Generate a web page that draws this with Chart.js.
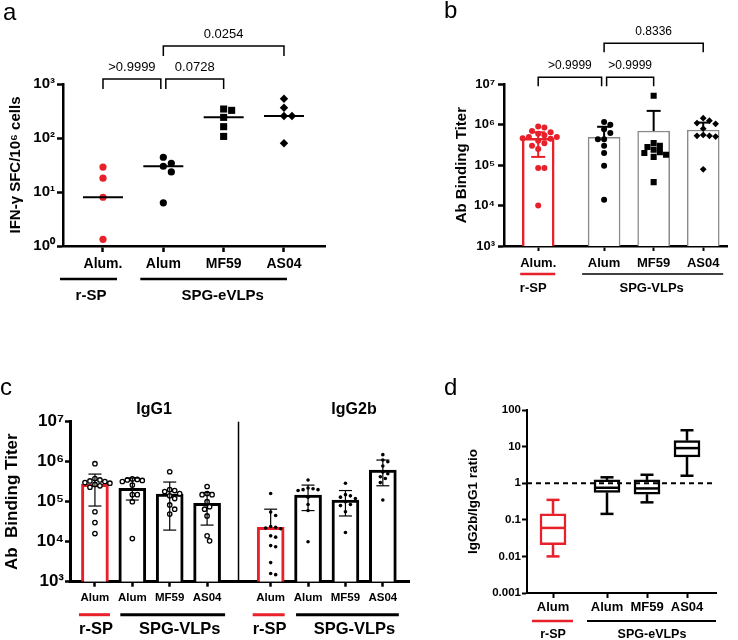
<!DOCTYPE html>
<html lang="en">
<head>
<meta charset="UTF-8">
<title>Vaccine immunogenicity panels</title>
<script src="https://cdn.jsdelivr.net/npm/chart.js@4.4.1/dist/chart.umd.min.js"></script>
<style>
  body { margin: 0; background: #fff; }
  #wrap { position: relative; width: 738px; height: 640px; }
  #wrap canvas { position: absolute; left: 0; top: 0; }
</style>
</head>
<body>
<div id="wrap">
  <canvas id="chartA" width="738" height="640"></canvas>
  <canvas id="chartB" width="738" height="640"></canvas>
  <canvas id="chartC" width="738" height="640"></canvas>
  <canvas id="chartD" width="738" height="640"></canvas>
</div>
<script>
// ---------- data ----------
// a: IFN-g SFC / 10^6 cells
var catsA = ['Alum.', 'Alum', 'MF59', 'AS04'];
var groupsA = ['r-SP', 'SPG-eVLPs'];
var spotsA = [
  [29, 18, 8, 1.33],
  [44, 34, 30, 23.5, 6.3],
  [344, 325, 241, 162, 107],
  [534, 364, 255, 255, 80]
];
var medianA = [8, 30, 241, 255];
var pvalA = ['>0.9999', '0.0728', '0.0254'];
var ticksA = [1, 10, 100, 1000];

// b: Ab binding titer
var catsB = ['Alum.', 'Alum', 'MF59', 'AS04'];
var groupsB = ['r-SP', 'SPG-VLPs'];
var titerB = [
  [9e5, 8.5e5, 7e5, 6.5e5, 6e5, 5.5e5, 5e5, 5e5, 4.6e5, 4.5e5, 4e5, 3.5e5, 3e5, 2.5e5, 8.5e4, 8.5e4, 1e4],
  [1.17e6, 1.0e6, 7.7e5, 6.2e5, 4.4e5, 4.4e5, 3.0e5, 2.0e5, 9.7e4, 1.4e4],
  [5.2e6, 3.5e5, 3.0e5, 2.8e5, 2.4e5, 2.1e5, 2.0e5, 1.8e5, 1.6e5, 3.8e4],
  [1.45e6, 1.26e6, 1.1e6, 1.05e6, 8.0e5, 5.6e5, 5.3e5, 5.3e5, 5.1e5, 7.9e4]
];
var meanB = [4.6e5, 4.9e5, 7.0e5, 7.4e5];
var sdLoB = [1.6e5, null, null, null];
var sdHiB = [6.5e5, 8.9e5, 2.2e6, 1.13e6];
var pvalB = ['>0.9999', '>0.9999', '0.8336'];
var ticksB = [1e3, 1e4, 1e5, 1e6, 1e7];

// c: IgG1 / IgG2b titers
var catsC = ['Alum', 'Alum', 'MF59', 'AS04', 'Alum', 'Alum', 'MF59', 'AS04'];
var subsetsC = ['IgG1', 'IgG2b'];
var groupsC = ['r-SP', 'SPG-VLPs', 'r-SP', 'SPG-VLPs'];
var igg1C = [
  [8.9e5, 3.8e5, 3.5e5, 3.3e5, 3.2e5, 3.0e5, 2.9e5, 2.7e5, 2.5e5, 2.3e5, 5.6e4, 3.0e4, 1.6e4],
  [3.7e5, 3.6e5, 3.5e5, 3.4e5, 3.2e5, 2.6e5, 1.5e5, 1.5e5, 1.0e5, 1.2e4],
  [5.6e5, 2.0e5, 1.9e5, 1.8e5, 1.6e5, 1.4e5, 1.2e5, 8.3e4, 6.5e4, 4.9e4],
  [2.4e5, 1.6e5, 1.5e5, 1.5e5, 1.0e5, 7.5e4, 6.5e4, 4.4e4, 1.4e4, 1.05e4]
];
var igg2bC = [
  [1.6e5, 5.5e4, 4.5e4, 2.4e4, 2.3e4, 2.2e4, 2.1e4, 1.4e4, 1.3e4, 8e3, 7.5e3, 3e3, 1.5e3, 1.6e3],
  [3.5e5, 2.2e5, 2.1e5, 2.0e5, 2.0e5, 1.9e5, 1.3e5, 8.5e4, 6e4, 1.0e4],
  [2.9e5, 1.5e5, 1.4e5, 1.3e5, 1.2e5, 1.0e5, 8.5e4, 8e4, 5.6e4, 1.7e4],
  [1.5e6, 1.1e6, 1.0e6, 7.8e5, 5.5e5, 5.0e5, 4.2e5, 3.8e5, 3.0e5, 1.1e5]
];
var meanC = [2.7e5, 2.15e5, 1.55e5, 9.1e4, 2.3e4, 1.47e5, 1.1e5, 6.2e5];
var sdLoC = [7.8e4, 1.1e5, 1.95e4, 2.6e4, null, 6e4, 4.4e4, 2.5e5];
var sdHiC = [4.9e5, 3.9e5, 3.1e5, 1.7e5, 6.5e4, 2.6e5, 1.9e5, 1.1e6];

// d: IgG2b/IgG1 ratio (box and whiskers)
var catsD = ['Alum', 'Alum', 'MF59', 'AS04'];
var groupsD = ['r-SP', 'SPG-eVLPs'];
var minD = [0.01, 0.145, 0.30, 1.6];
var q1D = [0.021, 0.56, 0.5, 5.2];
var medD = [0.06, 0.75, 0.72, 9.1];
var q3D = [0.145, 1.23, 1.23, 14.5];
var maxD = [0.35, 1.45, 1.7, 28];
var ticksD = [0.001, 0.01, 0.1, 1, 10, 100];
var tickLabelsD = ['0.001', '0.01', '0.1', '1', '10', '100'];

// ---------- layout ----------
var FONT = "'Liberation Sans', Arial, Helvetica, sans-serif";
var RED = '#e8202a';
var W = 738, H = 640;
var LA = {left: 63, right: 325, top: 84, bottom: 246, yw: 55.8, xh: 30, pos: [1, 2, 3, 4], xmin: 0.337, xmax: 4.68};
var LB = {left: 504, right: 727, top: 84.3, bottom: 246, yw: 51, xh: 30, pos: [0, 1.33, 2.33, 3.33], xmin: -0.69, xmax: 3.81};
var LC = {left: 70, right: 409, top: 421.7, bottom: 581.7, yw: 68.2, xh: 30, pos: [0, 1, 2, 3, 4.7, 5.7, 6.7, 7.7], xmin: -0.667, xmax: 8.4};
var LD = {left: 527, right: 716, top: 410, bottom: 593, yw: 62.1, xh: 30, pos: [0, 1.35, 2.35, 3.35], xmin: -0.65, xmax: 4.075};

function padOf(l) {
  return {left: l.left - l.yw, top: l.top, right: W - l.right, bottom: H - l.bottom - l.xh};
}

var SUP = '⁰¹²³⁴⁵⁶⁷⁸⁹';
function powLabel(v) {
  var e = String(Math.round(Math.log10(v)));
  return '10' + e.split('').map(function (d) { return SUP[+d]; }).join('');
}

// simple beeswarm: spread points sideways when they would overlap
function swarm(vals, pxDec, pxUnit, gap) {
  var placed = [];
  var offs = vals.map(function () { return 0; });
  var order = vals.map(function (v, i) { return i; }).sort(function (a, b) { return vals[b] - vals[a]; });
  order.forEach(function (i) {
    var y = Math.log10(vals[i]) * pxDec;
    var step = gap / 2;
    for (var k = 0; k < 80; k++) {
      var dx = (k % 2 ? 1 : -1) * Math.ceil(k / 2) * step;
      var hit = placed.some(function (p) { return Math.hypot(p.x - dx, p.y - y) < gap; });
      if (!hit) { placed.push({x: dx, y: y}); offs[i] = dx / pxUnit; break; }
    }
  });
  return offs;
}

function yAxis(o) {
  return {
    type: 'logarithmic', position: 'left', min: o.min, max: o.max,
    afterBuildTicks: function (s) { s.ticks = o.ticks.map(function (v) { return {value: v}; }); },
    afterFit: function (s) { s.width = o.width; },
    ticks: {autoSkip: false, padding: o.pad, color: '#000', font: {family: FONT, size: o.size, weight: 'bold'}, callback: o.label},
    grid: {drawOnChartArea: false, tickLength: o.tick, tickWidth: o.tw, tickColor: '#000'},
    border: {display: true, color: '#000', width: o.bw},
    title: {display: true, text: o.title, color: '#000', padding: 0, font: {family: FONT, size: o.tsize, weight: 'bold'}}
  };
}

function xAxis(l, labels, o) {
  return {
    type: 'linear', position: 'bottom', min: l.xmin, max: l.xmax, offset: false,
    afterBuildTicks: function (s) { s.ticks = l.pos.map(function (v) { return {value: v}; }); },
    afterFit: function (s) { s.height = l.xh; },
    ticks: {autoSkip: false, maxRotation: 0, minRotation: 0, padding: o.pad, color: '#000',
      font: {family: FONT, size: o.size, weight: 'bold'},
      callback: function (v, i) { return labels[i]; }},
    grid: {drawOnChartArea: false, offset: false, tickLength: o.tick, tickWidth: o.tw, tickColor: '#000'},
    border: {display: true, color: '#000', width: o.bw}
  };
}

function baseOptions(l, x, y) {
  return {
    responsive: false, animation: false, devicePixelRatio: 1,
    layout: {padding: padOf(l)},
    plugins: {legend: {display: false}, tooltip: {enabled: false}},
    scales: {x: x, y: y}
  };
}

// ---------- drawing helpers ----------
function text(ctx, s, x, y, size, bold, color, align) {
  ctx.save();
  ctx.font = (bold ? 'bold ' : '') + size + 'px ' + FONT;
  ctx.fillStyle = color || '#000';
  ctx.textAlign = align || 'center';
  ctx.textBaseline = 'middle';
  ctx.fillText(s, x, y);
  ctx.restore();
}
function path(ctx, pts, width, color, dash) {
  ctx.save();
  ctx.beginPath();
  ctx.lineWidth = width;
  ctx.strokeStyle = color || '#000';
  ctx.setLineDash(dash || []);
  pts.forEach(function (p, i) { if (i) ctx.lineTo(p[0], p[1]); else ctx.moveTo(p[0], p[1]); });
  ctx.stroke();
  ctx.restore();
}
function bracket(ctx, x1, x2, y, drop, label, size) {
  path(ctx, [[x1, y + drop], [x1, y], [x2, y], [x2, y + drop]], 1.5, '#000');
  text(ctx, label, (x1 + x2) / 2, y - 12, size, false);
}
function groups(ctx, xs, l, list, names, lineDy, labelDy, size) {
  var base = xs.bottom - l.xh;
  list.forEach(function (g, i) {
    var x1 = xs.getPixelForValue(l.pos[g.from]) + g.l;
    var x2 = g.r === 'end' ? xs.right : xs.getPixelForValue(l.pos[g.to]) + g.r;
    path(ctx, [[x1, base + lineDy], [x2, base + lineDy]], g.w, g.color);
    text(ctx, names[i], xs.getPixelForValue(l.pos[g.lc]) + g.ldx, base + labelDy, size, true);
  });
}
function errBar(ctx, x, yLo, yHi, yMid, cap, width, color) {
  if (yHi != null) {
    path(ctx, [[x, yMid], [x, yHi]], width, color);
    path(ctx, [[x - cap / 2, yHi], [x + cap / 2, yHi]], width, color);
  }
  if (yLo != null) {
    path(ctx, [[x, yMid], [x, yLo]], width, color);
    path(ctx, [[x - cap / 2, yLo], [x + cap / 2, yLo]], width, color);
  }
}

// ---------- panel a ----------
var styleA = [
  {ps: 'circle', r: 3.6, c: RED},
  {ps: 'circle', r: 3.6, c: '#000'},
  {ps: 'rect', r: 5, c: '#000'},
  {ps: 'rectRot', r: 4.2, c: '#000'}
];
var dsA = spotsA.map(function (vals, i) {
  var offs = swarm(vals, 54, 60.33, 8);
  return {
    type: 'scatter', label: catsA[i],
    data: vals.map(function (v, k) { return {x: LA.pos[i] + offs[k], y: v}; }),
    pointStyle: styleA[i].ps, pointRadius: styleA[i].r, backgroundColor: styleA[i].c, borderWidth: 0
  };
});
new Chart(document.getElementById('chartA'), {
  type: 'scatter',
  data: {datasets: dsA},
  options: baseOptions(LA,
    xAxis(LA, catsA, {size: 14, pad: 4, tick: 6, tw: 2.5, bw: 2.5}),
    yAxis({min: 1, max: 1000, ticks: ticksA, width: LA.yw, pad: 2, size: 15, tick: 6, tw: 2.5, bw: 2.5,
      label: powLabel, title: 'IFN-γ SFC/10⁶ cells', tsize: 15})),
  plugins: [{
    id: 'decoA',
    afterDatasetsDraw: function (chart) {
      var ctx = chart.ctx, xs = chart.scales.x, ys = chart.scales.y, top = chart.chartArea.top;
      medianA.forEach(function (m, i) {
        var cx = xs.getPixelForValue(LA.pos[i]), cy = ys.getPixelForValue(m);
        path(ctx, [[cx - 20, cy], [cx + 20, cy]], 2, '#000');
      });
      var px = function (i) { return xs.getPixelForValue(LA.pos[i]); };
      bracket(ctx, px(0), px(1) - 2.5, top - 5, 10, pvalA[0], 13);
      bracket(ctx, px(1) + 2.5, px(2), top - 5, 10, pvalA[1], 13);
      bracket(ctx, px(1), px(3), top - 38, 10, pvalA[2], 13);
      groups(ctx, xs, LA, [
        {from: 0, to: 0, l: -43, r: 14, lc: 0, ldx: -12, w: 2.5, color: '#000'},
        {from: 1, to: 3, l: -23, r: 3, lc: 2, ldx: -1, w: 2.5, color: '#000'}
      ], groupsA, 33, 50, 15);
    }
  }]
});

// ---------- panel b ----------
var styleB = [
  {ps: 'circle', r: 3, c: RED},
  {ps: 'circle', r: 3, c: '#000'},
  {ps: 'rect', r: 4.3, c: '#000'},
  {ps: 'rectRot', r: 3.4, c: '#000'}
];
var dsB = titerB.map(function (vals, i) {
  var offs = swarm(vals, 40.4, 49.5, 6.2);
  return {
    type: 'scatter', label: catsB[i], order: 1,
    data: vals.map(function (v, k) { return {x: LB.pos[i] + offs[k], y: v}; }),
    pointStyle: styleB[i].ps, pointRadius: styleB[i].r, backgroundColor: styleB[i].c, borderWidth: 0
  };
});
dsB.push({
  type: 'bar', label: 'mean', order: 2,
  data: meanB.map(function (v, i) { return {x: LB.pos[i], y: v}; }),
  backgroundColor: '#fff', borderColor: [RED, '#8a8a8a', '#8a8a8a', '#8a8a8a'],
  borderWidth: [2.5, 1.5, 1.5, 1.5], barThickness: 32
});
new Chart(document.getElementById('chartB'), {
  type: 'bar',
  data: {datasets: dsB},
  options: baseOptions(LB,
    xAxis(LB, catsB, {size: 13, pad: 5, tick: 5, tw: 2, bw: 2.5}),
    yAxis({min: 1e3, max: 1e7, ticks: ticksB, width: LB.yw, pad: 3, size: 13, tick: 6, tw: 2.5, bw: 2.5,
      label: powLabel, title: 'Ab Binding Titer', tsize: 15})),
  plugins: [{
    id: 'decoB',
    afterDatasetsDraw: function (chart) {
      var ctx = chart.ctx, xs = chart.scales.x, ys = chart.scales.y, top = chart.chartArea.top;
      var px = function (i) { return xs.getPixelForValue(LB.pos[i]); };
      meanB.forEach(function (m, i) {
        errBar(ctx, px(i), sdLoB[i] == null ? null : ys.getPixelForValue(sdLoB[i]),
          ys.getPixelForValue(sdHiB[i]), ys.getPixelForValue(m), 14, 2, i === 0 ? RED : '#000');
      });
      bracket(ctx, px(0), px(1) - 2.5, top - 7, 9, pvalB[0], 12);
      bracket(ctx, px(1) + 2.5, px(2), top - 7, 9, pvalB[1], 12);
      bracket(ctx, px(1), px(3), top - 41, 9, pvalB[2], 12);
      groups(ctx, xs, LB, [
        {from: 0, to: 0, l: -18, r: 17, lc: 0, ldx: -5, w: 2.5, color: RED},
        {from: 1, to: 3, l: -22, r: 20, lc: 2, ldx: -2, w: 1.5, color: '#000'}
      ], groupsB, 28, 42, 13);
    }
  }]
});

// ---------- panel c ----------
var dsC = igg1C.concat(igg2bC).map(function (vals, i) {
  var offs = swarm(vals, 40, 37.5, 5);
  var hollow = i < 4;
  return {
    type: 'scatter', label: catsC[i], order: 1,
    data: vals.map(function (v, k) { return {x: LC.pos[i] + offs[k], y: v}; }),
    pointStyle: 'circle', pointRadius: hollow ? 2.2 : 1.8,
    backgroundColor: hollow ? '#fff' : '#000', borderColor: '#000', borderWidth: hollow ? 1.3 : 0
  };
});
dsC.push({
  type: 'bar', label: 'mean', order: 2,
  data: meanC.map(function (v, i) { return {x: LC.pos[i], y: v}; }),
  backgroundColor: '#fff',
  borderColor: meanC.map(function (v, i) { return i % 4 === 0 ? RED : '#000'; }),
  borderWidth: 3, barThickness: 27
});
new Chart(document.getElementById('chartC'), {
  type: 'bar',
  data: {datasets: dsC},
  options: baseOptions(LC,
    xAxis(LC, catsC, {size: 11.5, pad: 4, tick: 5, tw: 2.5, bw: 3}),
    yAxis({min: 1e3, max: 1e7, ticks: ticksB, width: LC.yw, pad: 1, size: 17, tick: 5, tw: 2.5, bw: 3,
      label: powLabel, title: 'Ab  Binding Titer', tsize: 17})),
  plugins: [{
    id: 'decoC',
    afterDatasetsDraw: function (chart) {
      var ctx = chart.ctx, xs = chart.scales.x, ys = chart.scales.y, ca = chart.chartArea;
      meanC.forEach(function (m, i) {
        errBar(ctx, xs.getPixelForValue(LC.pos[i]), sdLoC[i] == null ? null : ys.getPixelForValue(sdLoC[i]),
          ys.getPixelForValue(sdHiC[i]), ys.getPixelForValue(m), 13, 1.2, '#000');
      });
      var dx = xs.getPixelForValue(3.84);
      path(ctx, [[dx, ca.top], [dx, ca.bottom]], 1.5, '#000');
      text(ctx, subsetsC[0], xs.getPixelForValue(1.58), ca.top - 12, 16, true);
      text(ctx, subsetsC[1], xs.getPixelForValue(6.93), ca.top - 12, 16, true);
      groups(ctx, xs, LC, [
        {from: 0, to: 0, l: -16, r: 15, lc: 0, ldx: 1, w: 3, color: RED},
        {from: 1, to: 3, l: -12, r: 18, lc: 2, ldx: 10, w: 3, color: '#000'},
        {from: 4, to: 4, l: -18, r: 14, lc: 4, ldx: -1, w: 3, color: RED},
        {from: 5, to: 7, l: -12, r: 16, lc: 6, ldx: 9, w: 3, color: '#000'}
      ], groupsC, 33, 48, 16.5);
    }
  }]
});

// ---------- panel d ----------
var dsD = [{
  type: 'bar', label: 'IQR',
  data: q1D.map(function (v, i) { return {x: LD.pos[i], y: [v, q3D[i]]}; }),
  backgroundColor: '#fff', borderColor: [RED, '#000', '#000', '#000'],
  borderWidth: 2.5, borderSkipped: false, barThickness: 26
}];
new Chart(document.getElementById('chartD'), {
  type: 'bar',
  data: {datasets: dsD},
  options: baseOptions(LD,
    xAxis(LD, catsD, {size: 13, pad: 2, tick: 5, tw: 2, bw: 2}),
    yAxis({min: 0.001, max: 100, ticks: ticksD, width: LD.yw, pad: 1, size: 11.5, tick: 5, tw: 2, bw: 2,
      label: function (v) { return tickLabelsD[ticksD.indexOf(v)]; }, title: 'IgG2b/IgG1 ratio', tsize: 13.5})),
  plugins: [{
    id: 'decoD',
    afterDatasetsDraw: function (chart) {
      var ctx = chart.ctx, xs = chart.scales.x, ys = chart.scales.y, ca = chart.chartArea;
      var y1 = ys.getPixelForValue(1);
      path(ctx, [[ca.left, y1], [ca.right, y1]], 2, '#000', [5, 4]);
      medD.forEach(function (m, i) {
        var cx = xs.getPixelForValue(LD.pos[i]), col = i === 0 ? RED : '#000';
        var yq1 = ys.getPixelForValue(q1D[i]), yq3 = ys.getPixelForValue(q3D[i]);
        var ymin = ys.getPixelForValue(minD[i]), ymax = ys.getPixelForValue(maxD[i]);
        path(ctx, [[cx - 12, ys.getPixelForValue(m)], [cx + 12, ys.getPixelForValue(m)]], 2.5, col);
        path(ctx, [[cx, yq3], [cx, ymax]], 2.5, col);
        path(ctx, [[cx - 6.5, ymax], [cx + 6.5, ymax]], 2.5, col);
        path(ctx, [[cx, yq1], [cx, ymin]], 2.5, col);
        path(ctx, [[cx - 6.5, ymin], [cx + 6.5, ymin]], 2.5, col);
      });
      groups(ctx, xs, LD, [
        {from: 0, to: 0, l: -21, r: 20, lc: 0, ldx: 0, w: 2.5, color: RED},
        {from: 1, to: 3, l: -20, r: 'end', lc: 2, ldx: 5, w: 2, color: '#000'}
      ], groupsD, 28, 42, 12.5);
    },
    afterDraw: function (chart) {
      var ctx = chart.ctx;
      ctx.save();
      ctx.font = '24px ' + FONT;
      ctx.fillStyle = '#000';
      ctx.textAlign = 'left';
      ctx.textBaseline = 'alphabetic';
      [['a', 3, 20], ['b', 444, 18], ['c', 0, 395], ['d', 444, 395]].forEach(function (t) {
        ctx.fillText(t[0], t[1], t[2]);
      });
      ctx.restore();
    }
  }]
});
</script>
</body>
</html>
